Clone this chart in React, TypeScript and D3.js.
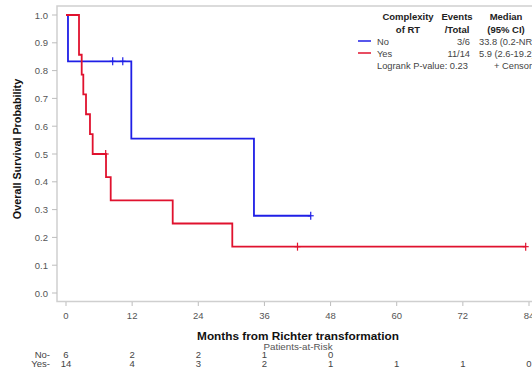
import React from "react";
import * as d3 from "d3";

// Kaplan–Meier steps: time (months) and survival after each step
const noTimes = [0, 0.36, 11.85, 34.1, 44.4];
const noSurv = [1, 0.8333, 0.5556, 0.2778, 0.2778];
const noCensor = [8.47, 10.3, 44.4];

const yesTimes = [0, 2.36, 2.85, 3.14, 3.63, 4.35, 4.84, 7.26, 8.11, 19.36, 30.17, 83.4];
const yesSurv = [1, 0.8571, 0.7857, 0.7143, 0.6429, 0.5714, 0.5, 0.4167, 0.3333, 0.25, 0.1667, 0.1667];
const yesCensor = [7.2, 42.0, 83.4];

const xTicks = [0, 12, 24, 36, 48, 60, 72, 84];
const yTicks = [0, 0.1, 0.2, 0.3, 0.4, 0.5, 0.6, 0.7, 0.8, 0.9, 1.0];

const riskNo = ["6", "2", "2", "1", "0"];
const riskYes = ["14", "4", "3", "2", "1", "1", "1", "0"];

const groups = ["No", "Yes"];
const eventsTotal = ["3/6", "11/14"];
const medians = ["33.8 (0.2-NR)", "5.9 (2.6-19.2)"];

const BLUE = "#1f1fe6";
const RED = "#e0122e";
const FONT = "'Liberation Sans', Arial, sans-serif";

function survAt(times: number[], surv: number[], t: number) {
  let s = surv[0];
  for (let i = 0; i < times.length; i++) if (times[i] <= t) s = surv[i];
  return s;
}

export default function App() {
  const x = d3.scaleLinear().domain([0, 84]).range([66, 529]);
  const y = d3.scaleLinear().domain([0, 1]).range([293, 15]);

  const line = d3
    .line<[number, number]>()
    .x((d) => x(d[0]))
    .y((d) => y(d[1]))
    .curve(d3.curveStepAfter);

  const noPts = noTimes.map((t, i) => [t, noSurv[i]] as [number, number]);
  const yesPts = yesTimes.map((t, i) => [t, yesSurv[i]] as [number, number]);

  const censorMarks = (times: number[], tt: number[], ss: number[], color: string) =>
    times.map((t, i) => {
      const cx = x(t);
      const cy = y(survAt(tt, ss, t));
      return (
        <g key={i} stroke={color} strokeWidth={1.2}>
          <line x1={cx} x2={cx} y1={cy - 4} y2={cy + 4} />
          <line x1={cx - 3} x2={cx + 3} y1={cy} y2={cy} />
        </g>
      );
    });

  return (
    <svg
      width={532}
      height={369}
      style={{ position: "absolute", left: 0, top: 0, background: "#fff" }}
      fontFamily={FONT}
    >
      {/* plot frame */}
      <rect x={57} y={6} width={500} height={295.5} fill="none" stroke="#cfcfcf" strokeWidth={1.5} />

      {/* y axis ticks and labels */}
      {yTicks.map((v) => (
        <g key={v}>
          <line x1={52} x2={57} y1={y(v)} y2={y(v)} stroke="#bdbdbd" />
          <text x={48} y={y(v) + 3.5} fontSize={9.5} fill="#555" textAnchor="end">
            {d3.format(".1f")(v)}
          </text>
        </g>
      ))}
      <text
        transform={`translate(21,149) rotate(-90)`}
        textAnchor="middle"
        fontSize={10.8}
        fontWeight="bold"
        fill="#111"
      >
        Overall Survival Probability
      </text>

      {/* x axis ticks and labels */}
      {xTicks.map((v) => (
        <g key={v}>
          <line x1={x(v)} x2={x(v)} y1={302} y2={306} stroke="#bdbdbd" />
          <text x={x(v)} y={319} fontSize={9.5} fill="#555" textAnchor="middle">
            {v}
          </text>
        </g>
      ))}
      <text x={298} y={340} textAnchor="middle" fontSize={11.8} fontWeight="bold" fill="#111">
        Months from Richter transformation
      </text>

      {/* survival curves */}
      <path d={line(noPts) ?? ""} fill="none" stroke={BLUE} strokeWidth={1.8} />
      <path d={line(yesPts) ?? ""} fill="none" stroke={RED} strokeWidth={1.8} />
      {censorMarks(noCensor, noTimes, noSurv, BLUE)}
      {censorMarks(yesCensor, yesTimes, yesSurv, RED)}

      {/* legend table */}
      <g fontSize={9.3} fill="#222">
        <g fontWeight="bold" textAnchor="middle" fontSize={9.5}>
          <text x={408} y={20}>Complexity</text>
          <text x={408} y={33}>of RT</text>
          <text x={457} y={20}>Events</text>
          <text x={457} y={33}>/Total</text>
          <text x={506} y={20}>Median</text>
          <text x={506} y={33}>(95% CI)</text>
        </g>
        {groups.map((g, i) => (
          <g key={g}>
            <line
              x1={358}
              x2={371}
              y1={41 + i * 12}
              y2={41 + i * 12}
              stroke={i === 0 ? BLUE : RED}
              strokeWidth={1.5}
            />
            <text x={377} y={44.5 + i * 12} fill="#444">{g}</text>
            <text x={470} y={44.5 + i * 12} textAnchor="end" fill="#444">{eventsTotal[i]}</text>
            <text x={479} y={44.5 + i * 12} fill="#444">{medians[i]}</text>
          </g>
        ))}
        <text x={377} y={68.5} fill="#444">Logrank P-value: 0.23</text>
        <text x={494} y={68.5} fill="#444">+ Censored</text>
      </g>

      {/* patients at risk */}
      <text x={298} y={350} textAnchor="middle" fontSize={9.8} fill="#555">
        Patients-at-Risk
      </text>
      <g fontSize={9.5} fill="#444">
        <text x={50} y={358} textAnchor="end">No-</text>
        <text x={50} y={367} textAnchor="end">Yes-</text>
        {riskNo.map((r, i) => (
          <text key={"n" + i} x={x(xTicks[i])} y={358} textAnchor="middle">{r}</text>
        ))}
        {riskYes.map((r, i) => (
          <text key={"y" + i} x={x(xTicks[i])} y={367} textAnchor="middle">{r}</text>
        ))}
      </g>
    </svg>
  );
}
